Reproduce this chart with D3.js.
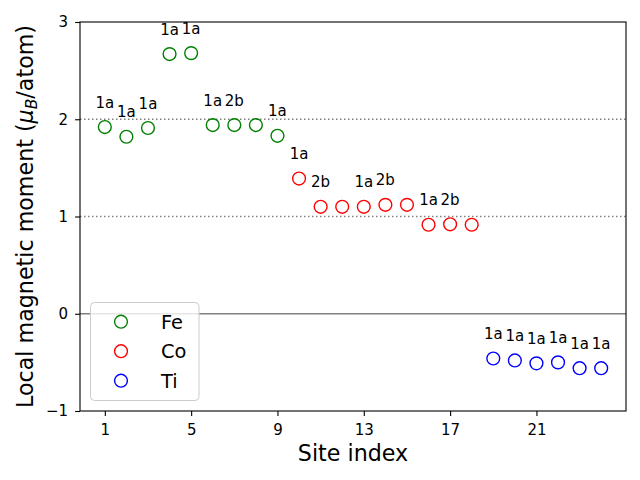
<!DOCTYPE html>
<html><head><meta charset="utf-8">
<script src="https://cdn.jsdelivr.net/npm/d3@7"></script>
<style>
html,body{margin:0;padding:0;background:#fff;}
svg{display:block;font-family:"DejaVu Sans",sans-serif;}
</style></head>
<body>
<svg id="chart" width="640" height="480"></svg>
<script>
// Data
const feSites = [1,2,3,4,5,6,7,8,9];
const feMoments = [1.92,1.82,1.91,2.67,2.68,1.94,1.94,1.94,1.83];
const feLabels = ["1a","1a","1a","1a","1a","1a","2b","","1a"];
const coSites = [10,11,12,13,14,15,16,17,18];
const coMoments = [1.39,1.10,1.10,1.10,1.12,1.12,0.915,0.92,0.915];
const coLabels = ["1a","2b","","1a","2b","","1a","2b",""];
const tiSites = [19,20,21,22,23,24];
const tiMoments = [-0.46,-0.48,-0.51,-0.50,-0.56,-0.56];
const tiLabels = ["1a","1a","1a","1a","1a","1a"];
const xTicks = [1,5,9,13,17,21];
const yTicks = [-1,0,1,2,3];
const refLines = [1,2];

const series = [
  {name:"Fe", color:"green", x:feSites, y:feMoments, labels:feLabels},
  {name:"Co", color:"red", x:coSites, y:coMoments, labels:coLabels},
  {name:"Ti", color:"blue", x:tiSites, y:tiMoments, labels:tiLabels}
];

const L=80, R=626, T=22, B=411;
const svg = d3.select("#chart");
const x = d3.scaleLinear().domain([-0.15,25.15]).range([L,R]);
const y = d3.scaleLinear().domain([-1,3]).range([B,T]);

// reference lines
svg.selectAll(".ref").data(refLines).enter().append("line")
  .attr("x1",L).attr("x2",R).attr("y1",d=>y(d)).attr("y2",d=>y(d))
  .attr("stroke","gray").attr("stroke-width",1.5).attr("stroke-dasharray","1.5,2.5");
svg.append("line").attr("x1",L).attr("x2",R).attr("y1",y(0)).attr("y2",y(0))
  .attr("stroke","gray").attr("stroke-width",1.5);

// points + labels
series.forEach(s=>{
  const g = svg.append("g");
  g.selectAll("circle").data(s.x).enter().append("circle")
    .attr("cx",d=>x(d)).attr("cy",(d,i)=>y(s.y[i])).attr("r",6.4)
    .attr("fill","none").attr("stroke",s.color).attr("stroke-width",1.4);
  g.selectAll("text").data(s.x).enter().append("text")
    .attr("x",d=>x(d)).attr("y",(d,i)=>y(s.y[i]+0.2))
    .attr("text-anchor","middle").attr("font-size","15px").attr("fill","#000")
    .text((d,i)=>s.labels[i]);
});

// axes
const xAxis = d3.axisBottom(x).tickValues(xTicks).tickSize(4.9).tickPadding(3.5).tickFormat(d3.format("d"));
const yAxis = d3.axisLeft(y).tickValues(yTicks).tickSize(4.9).tickPadding(7).tickFormat(d=>d<0?"\u2212"+Math.abs(d):d);
const gx = svg.append("g").attr("transform",`translate(0,${B})`).call(xAxis);
const gy = svg.append("g").attr("transform",`translate(${L},0)`).call(yAxis);
[gx,gy].forEach(g=>{
  g.select(".domain").remove();
  g.selectAll("line").attr("stroke","#000").attr("stroke-width",1.1);
  g.selectAll("text").attr("font-size","15px").attr("fill","#000").attr("font-family","DejaVu Sans");
});
gx.selectAll("text").attr("y",24).attr("dy",0);
svg.append("rect").attr("x",L).attr("y",T).attr("width",R-L).attr("height",B-T)
  .attr("fill","none").attr("stroke","#000").attr("stroke-width",1.1);

// axis titles
svg.append("text").attr("x",(L+R)/2).attr("y",461).attr("text-anchor","middle")
  .attr("font-size","22.2px").text("Site index");
const yl = svg.append("text").attr("transform",`translate(33,${(T+B)/2}) rotate(-90)`)
  .attr("text-anchor","middle").attr("font-size","22.2px");
yl.append("tspan").text("Local magnetic moment (");
yl.append("tspan").attr("font-style","italic").text("\u03bc");
yl.append("tspan").attr("font-style","italic").attr("font-size","15.5px").attr("dy",4).text("B");
yl.append("tspan").attr("dy",-4).text("/atom)");

// legend
const lg = svg.append("g");
lg.append("rect").attr("x",90.5).attr("y",302.5).attr("width",108.5).attr("height",98).attr("rx",4)
  .attr("fill","#fff").attr("fill-opacity",0.8).attr("stroke","#ccc").attr("stroke-width",1);
series.forEach((s,i)=>{
  const cy = 321.7 + i*29.5;
  lg.append("circle").attr("cx",121).attr("cy",cy).attr("r",6.4)
    .attr("fill","none").attr("stroke",s.color).attr("stroke-width",1.4);
  lg.append("text").attr("x",161).attr("y",cy+7).attr("font-size","19.4px").text(s.name);
});
</script>
</body></html>
